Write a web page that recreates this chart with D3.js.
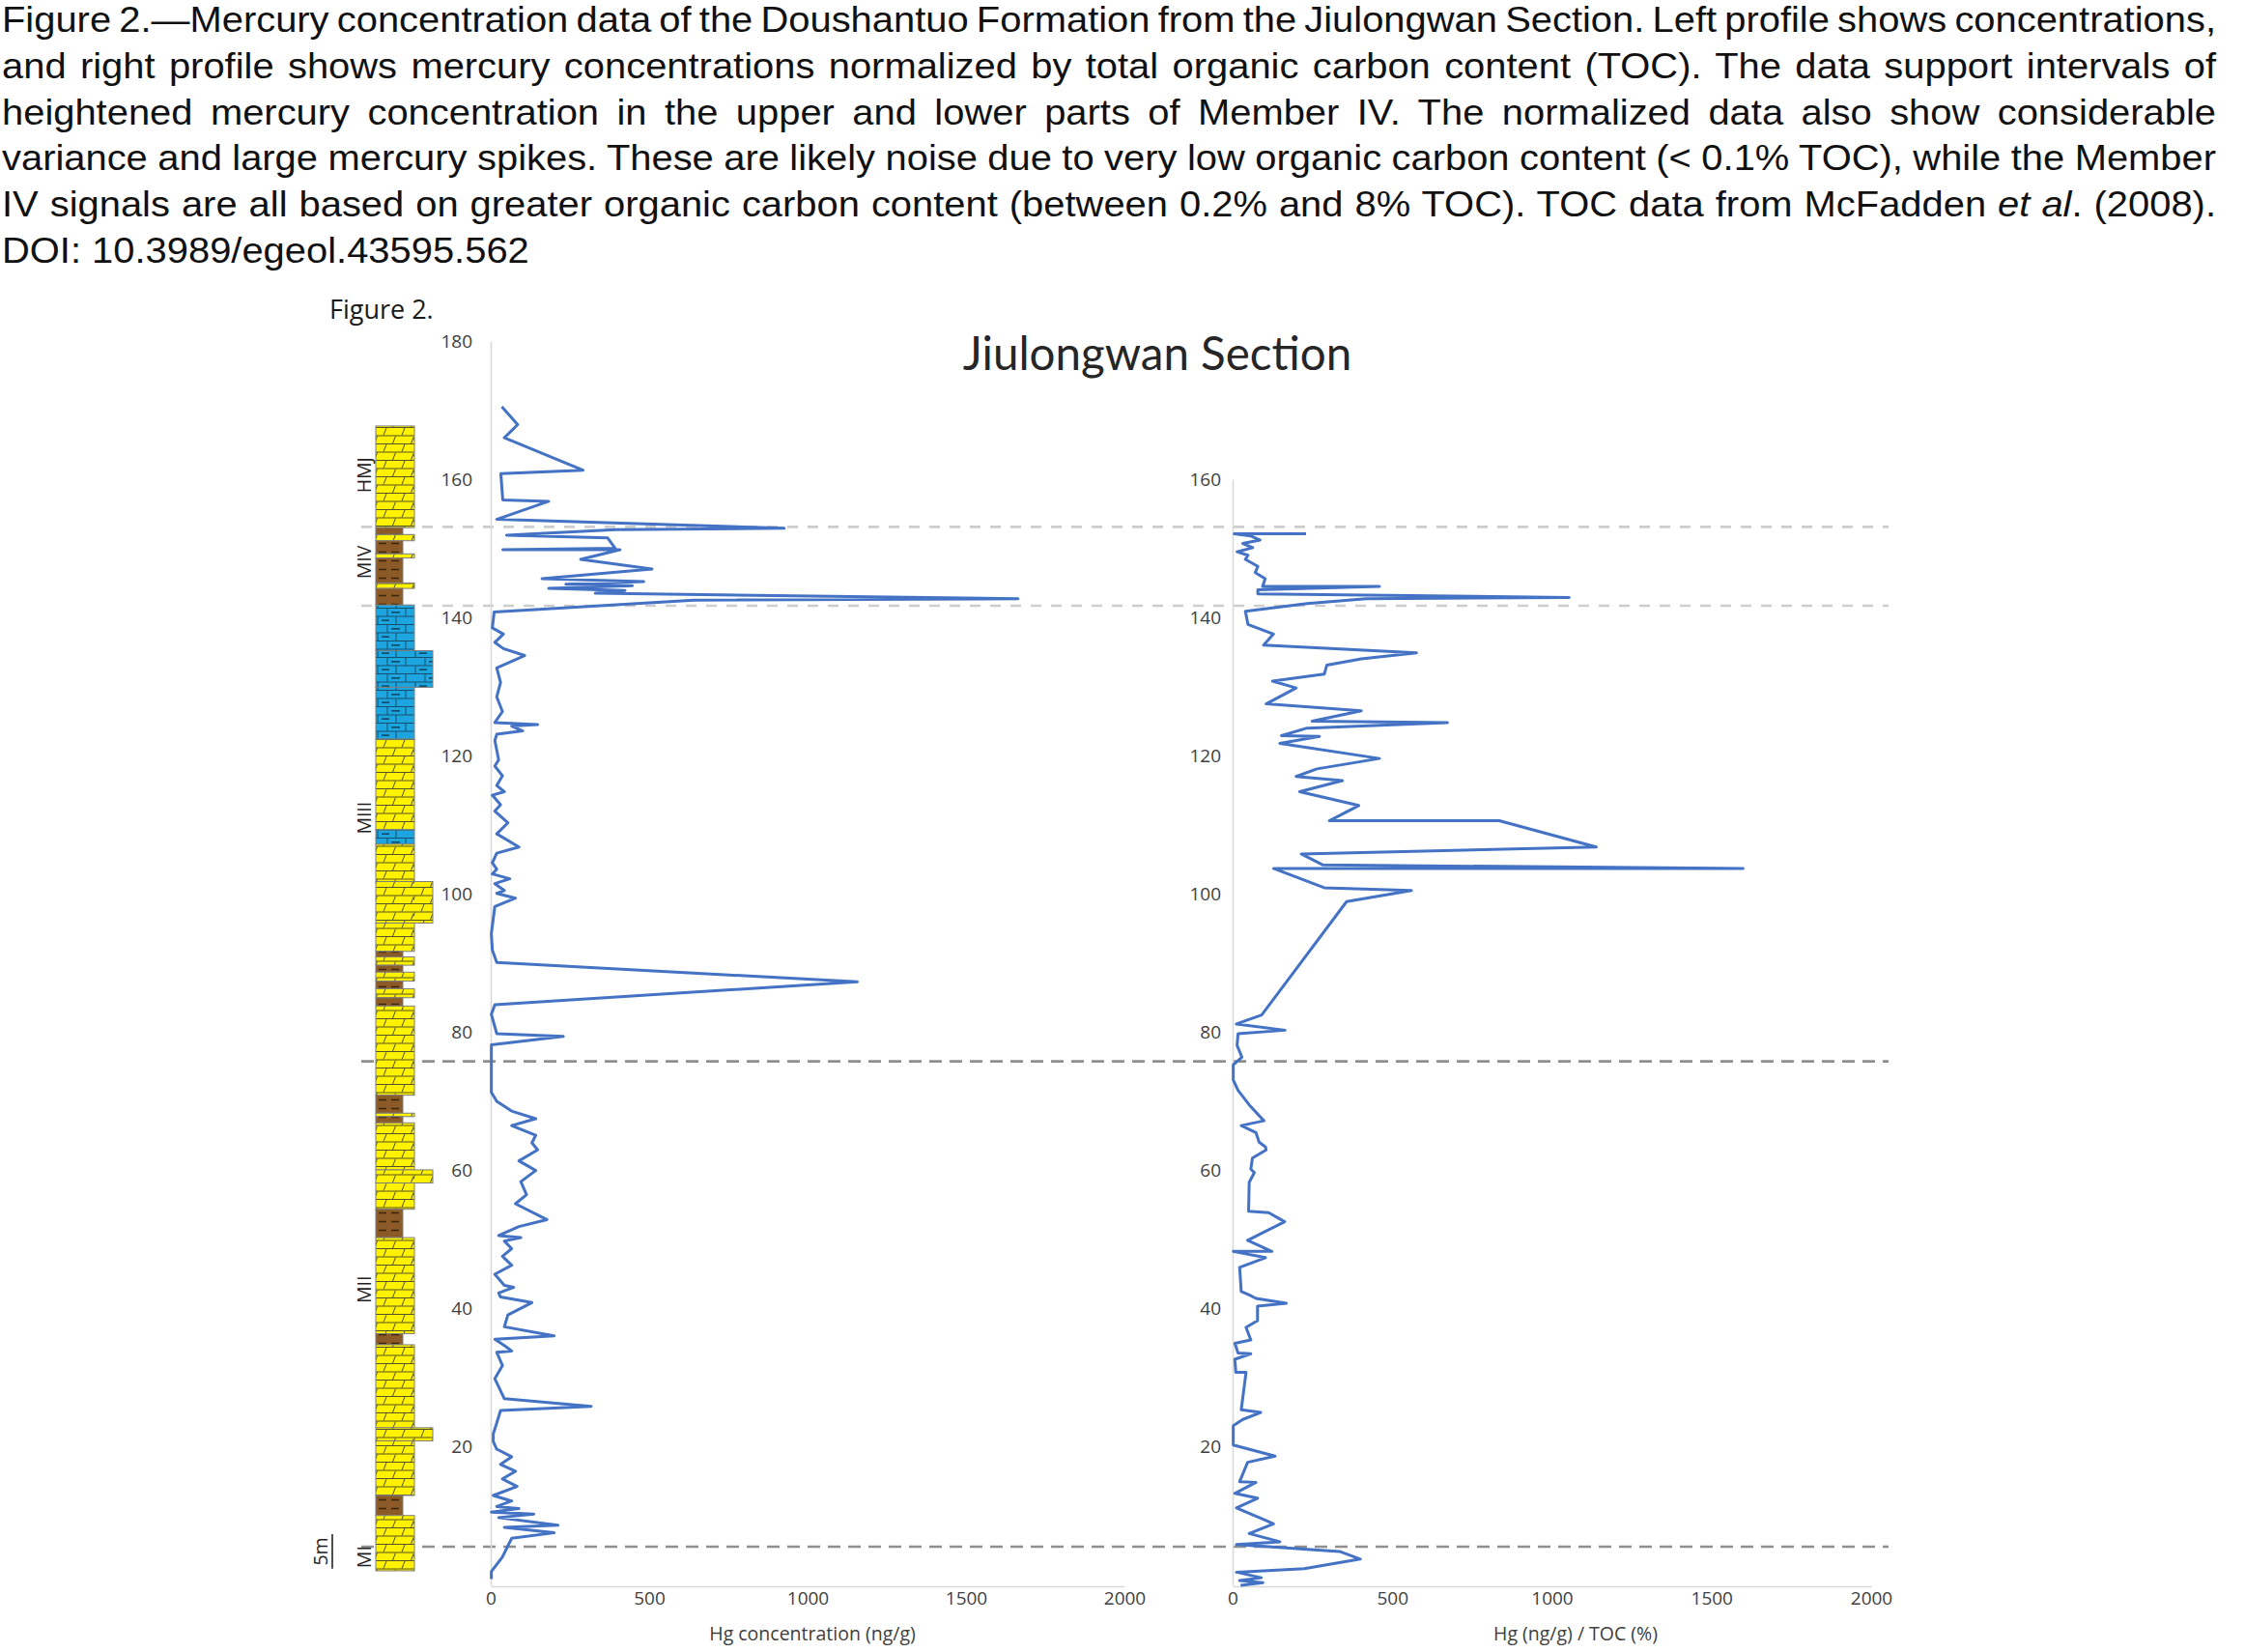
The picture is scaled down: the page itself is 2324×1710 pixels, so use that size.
<!DOCTYPE html>
<html><head><meta charset="utf-8">
<script src="https://cdn.jsdelivr.net/npm/d3@7"></script>
<style>body{margin:0;background:#fff}svg{display:block}</style>
</head><body>
<svg id="chart" width="2324" height="1710"></svg>
<script>
// ---------------- DATA ----------------
const captionLines = [
  [["Figure 2.—Mercury concentration data of the Doushantuo Formation from the Jiulongwan Section. Left profile shows concentrations,", false]],
  [["and right profile shows mercury concentrations normalized by total organic carbon content (TOC). The data support intervals of", false]],
  [["heightened mercury concentration in the upper and lower parts of Member IV. The normalized data also show considerable", false]],
  [["variance and large mercury spikes. These are likely noise due to very low organic carbon content (< 0.1% TOC), while the Member", false]],
  [["IV signals are all based on greater organic carbon content (between 0.2% and 8% TOC). TOC data from McFadden ", false], ["et al", true], [". (2008).", false]],
  [["DOI: 10.3989/egeol.43595.562", false]]
];
const figureLabel = "Figure 2.";
const chartTitle = "Jiulongwan Section";
const leftAxisTitle = "Hg concentration (ng/g)";
const rightAxisTitle = "Hg (ng/g) / TOC (%)";
const xTicks = [0, 500, 1000, 1500, 2000];
const leftDepthTicks = [20, 40, 60, 80, 100, 120, 140, 160, 180];
const rightDepthTicks = [20, 40, 60, 80, 100, 120, 140, 160];

// Hg concentration profile (depth m, ng/g)
const hgDepth = [170.5,167.9,166.0,161.3,160.8,157.0,156.8,154.2,152.9,152.7,151.9,151.5,150.0,149.8,149.8,148.4,147.0,145.6,145.2,144.8,144.6,144.2,143.9,143.5,142.7,142.5,140.8,
 138.5,137.6,136.4,135.5,134.5,132.7,130.6,128.5,126.4,124.8,124.5,124.3,123.6,123.1,122.2,119.4,118.5,117.1,115.7,114.8,114.3,112.9,112.0,110.3,108.7,106.8,105.9,104.5,103.6,102.9,102.2,101.5,100.5,100.1,99.4,98.2,94.3,91.9,90.1,87.3,84.0,82.6,79.8,79.4,78.2,75.6,
 71.3,70.0,68.6,67.5,66.5,65.1,64.0,63.0,61.4,60.0,58.4,56.5,55.2,52.9,51.9,50.6,50.3,49.8,48.7,47.6,46.3,45.0,43.4,43.1,42.3,41.7,40.9,39.1,37.4,36.1,35.6,34.7,33.9,33.7,31.8,29.9,27.0,25.9,25.3,23.5,21.9,20.8,19.7,18.6,17.5,16.5,15.4,14.3,13.0,12.2,11.4,11.1,10.6,10.3,9.8,8.7,8.4,7.6,6.8,5.7,4.1,2.0,0.9];
const hgConc = [35,85,43,291,32,38,183,19,926,393,50,369,393,38,408,284,509,162,483,237,447,183,424,330,1664,641,11,
 5,40,13,40,107,19,31,19,37,13,148,66,101,19,13,25,13,37,19,43,5,31,13,54,19,89,19,5,19,5,60,13,43,19,78,13,2,5,19,1157,13,2,19,229,2,2,
 2,19,66,142,66,142,130,148,89,142,95,113,78,177,89,25,95,43,66,37,66,13,43,72,25,31,130,54,43,200,13,43,66,19,37,13,43,317,31,19,8,8,19,66,31,78,37,83,8,66,19,89,2,136,25,212,43,200,66,54,37,2,2];

// Hg / TOC profile (depth m, (ng/g)/%)
const tocDepth = [152.1,152.1,151.8,151.2,150.7,150.1,149.5,149.0,148.4,147.4,146.5,145.6,144.5,144.5,144.0,143.4,142.9,142.7,142.0,140.9,139.0,137.6,136.0,134.9,134.0,133.1,131.8,130.8,129.8,127.5,126.5,125.0,124.8,124.0,122.9,122.8,121.8,119.6,118.1,117.0,116.4,114.8,112.8,110.6,110.6,106.8,105.8,104.2,103.7,103.7,100.9,100.5,98.9,
 82.5,81.2,80.3,79.8,78.1,76.4,75.3,73.1,71.6,69.5,67.2,66.5,65.5,64.1,63.4,63.0,61.8,60.2,59.7,58.3,54.1,53.9,52.6,49.9,48.3,48.3,47.4,46.0,42.5,42.0,41.5,40.8,40.4,38.3,37.3,35.5,35.0,33.6,33.5,32.7,30.8,30.8,25.4,25.0,24.0,23.1,20.3,18.7,17.8,15.0,14.9,13.3,12.6,11.2,9.4,8.9,7.5,6.3,5.9,4.9,3.8,2.4,1.9,1.1,0.7,0.4,0.0];
const tocNorm = [230,5,56,86,32,63,14,48,40,79,71,102,94,460,79,79,1054,418,233,40,48,128,97,576,403,295,287,125,199,105,403,249,673,233,153,272,148,460,264,199,344,210,395,303,835,1139,215,283,1599,128,287,560,357,
 91,12,164,17,14,29,2,2,17,52,98,27,73,83,103,105,62,57,68,52,50,113,163,47,123,2,103,22,27,52,73,168,78,78,42,57,7,17,57,7,10,42,27,88,32,2,2,133,47,22,73,7,78,12,103,128,52,148,12,335,400,224,12,90,22,95,25];

// Member boundaries (dashed) in m
const boundaryDepths = [153.1, 141.7, 75.8, 5.6];
const boundaryTone = ["light", "light", "dark", "dark"];

// Lithology column: top, base (m), rock type, weathering profile level
const lithTop  = [167.7,153.0,152.0,151.1,149.2,148.6,145.0,144.2,141.8,135.2,129.9,122.4,109.3,107.2,101.8,95.8,91.7,90.9,89.7,88.7,87.4,86.3,85.0,83.8,70.9,68.3,67.8,66.9,60.1,58.2,54.4,50.3,36.4,34.8,22.8,20.9,13.0,10.1];
const lithBase = [153.0,152.0,151.1,149.2,148.6,145.0,144.2,141.8,135.2,129.9,122.4,109.3,107.2,101.8,95.8,91.7,90.9,89.7,88.7,87.4,86.3,85.0,83.8,70.9,68.3,67.8,66.9,60.1,58.2,54.4,50.3,36.4,34.8,22.8,20.9,13.0,10.1,2.1];
const lithRock = ["dolomite","shale","dolomite","shale","dolomite","shale","dolomite","shale","limestone","limestone","limestone","dolomite","limestone","dolomite","dolomite","dolomite","shale","dolomite","shale","dolomite","shale","dolomite","shale","dolomite","shale","dolomite","shale","dolomite","dolomite","dolomite","shale","dolomite","shale","dolomite","dolomite","dolomite","shale","dolomite"];
const lithLevel = [2,1,2,1,2,1,2,1,2,3,2,2,2,2,3,2,1,2,1,2,1,2,1,2,1,2,1,2,3,2,1,2,1,2,3,2,1,2];

const memberNames = ["HMJ","MIV","MIII","MII","MI"];
const memberLabelDepth = [160.6,148.0,111.0,42.8,4.1];
const scaleBarLabel = "5m";
const scaleBarFrom = 2.4, scaleBarTo = 7.4;

// ---------------- DRAW ----------------
const svg = d3.select("#chart");
svg.append("rect").attr("width",2324).attr("height",1710).attr("fill","#fff");

// caption (justified, slightly wide face)
const capStretch = 1.079;
const cap = svg.append("g").attr("transform",`scale(${capStretch},1)`)
  .attr("font-family","'Liberation Sans', Arial, sans-serif").attr("font-size",37).attr("fill","#111");
const capLeft = 2 / capStretch, capRight = 2294 / capStretch;
captionLines.forEach((parts, i) => {
  const t = cap.append("text").attr("x", capLeft).attr("y", 33 + i*47.8).attr("xml:space","preserve");
  parts.forEach(([s, it]) => { const ts = t.append("tspan").text(s); if (it) ts.attr("font-style","italic"); });
  if (i < captionLines.length - 1) {
    const full = parts.map(p=>p[0]).join("");
    const nSp = (full.match(/ /g) || []).length;
    const len = t.node().getComputedTextLength();
    t.style("word-spacing", ((capRight - capLeft - len) / nSp) + "px");
  }
});

const chartFont = "'Open Sans', 'Noto Sans', sans-serif";
svg.append("text").attr("x",341).attr("y",330).attr("font-family",chartFont).attr("font-size",27).attr("fill","#1a1a1a").text(figureLabel);
svg.append("text").attr("x",1198).attr("y",383).attr("text-anchor","middle").attr("font-family","Lato, 'Open Sans', sans-serif").attr("font-size",47.5).attr("fill","#262626").text(chartTitle);

// scales
const pxPerM = 7.156;
const yL = d3.scaleLinear().domain([0,180]).range([1641, 1641 - 180*pxPerM]);
const yR = d3.scaleLinear().domain([0,160]).range([1641, 1641 - 160*pxPerM]);
const xL = d3.scaleLinear().domain([0,2000]).range([508, 1164]);
const xR = d3.scaleLinear().domain([0,2000]).range([1276, 1937]);

// dashed boundaries
svg.append("g").selectAll("line").data(boundaryDepths).join("line")
  .attr("x1",374).attr("x2",1955)
  .attr("y1",d=>yL(d)).attr("y2",d=>yL(d))
  .attr("stroke",(d,i)=>boundaryTone[i]==="light" ? "#cdcdcd" : "#8f8f8f")
  .attr("stroke-width",2.6)
  .attr("stroke-dasharray",(d,i)=>boundaryTone[i]==="light" ? "11,10" : "13,8");

// patterns
const defs = svg.append("defs");
const pd = defs.append("pattern").attr("id","dolomite").attr("patternUnits","userSpaceOnUse").attr("width",39).attr("height",17).attr("x",389).attr("y",0);
pd.append("rect").attr("width",39).attr("height",17).attr("fill","#FFF200");
pd.append("path").attr("d","M0,0.5H39M0,9H39").attr("stroke","#55532a").attr("stroke-width",1.1).attr("fill","none");
pd.append("path").attr("d","M8,8.5L11,1M27,8.5L30,1M17.5,17L20.5,9.5M36.5,17L39.5,9.5M-1.5,17L1.5,9.5").attr("stroke","#3a3a2a").attr("stroke-width",0.9).attr("fill","none");
const pl = defs.append("pattern").attr("id","limestone").attr("patternUnits","userSpaceOnUse").attr("width",39).attr("height",17).attr("x",389).attr("y",0);
pl.append("rect").attr("width",39).attr("height",17).attr("fill","#1CA5DF");
pl.append("path").attr("d","M0,0.5H39M0,9H39M12,0.5V9M31,0.5V9M21,9V17M2,9V17").attr("stroke","#17506f").attr("stroke-width",1).attr("fill","none");
pl.append("path").attr("d","M16,4.8H25M6,13.2H14").attr("stroke","#0d2f45").attr("stroke-width",1.2).attr("fill","none");
const ps = defs.append("pattern").attr("id","shale").attr("patternUnits","userSpaceOnUse").attr("width",28).attr("height",9).attr("x",389).attr("y",0);
ps.append("rect").attr("width",28).attr("height",9).attr("fill","#8C5A26");
ps.append("path").attr("d","M3,4.5H11M16,4.5H24").attr("stroke","#3a250d").attr("stroke-width",1.4).attr("fill","none");

const colLeft = 389;
const widthOf = d3.scaleOrdinal().domain([1,2,3]).range([28,40,59]);
const lith = lithTop.map((t,i)=>({top:t, base:lithBase[i], rock:lithRock[i], level:lithLevel[i]}));
svg.append("g").selectAll("rect").data(lith).join("rect")
  .attr("x",colLeft).attr("y",d=>yL(d.top)).attr("width",d=>widthOf(d.level)).attr("height",d=>yL(d.base)-yL(d.top))
  .attr("fill",d=>`url(#${d.rock})`).attr("stroke","#7d7d7d").attr("stroke-width",1);

// member labels
svg.append("g").selectAll("text").data(memberNames).join("text")
  .attr("transform",(d,i)=>`translate(384,${yL(memberLabelDepth[i])}) rotate(-90)`)
  .attr("text-anchor","middle").attr("font-family",chartFont).attr("font-size",19.5).attr("fill","#1f1f1f").text(d=>d);
svg.append("text").attr("transform",`translate(339,${yL((scaleBarFrom+scaleBarTo)/2)}) rotate(-90)`)
  .attr("text-anchor","middle").attr("font-family",chartFont).attr("font-size",19.5).attr("fill","#1f1f1f").text(scaleBarLabel);
svg.append("line").attr("x1",344).attr("x2",344).attr("y1",yL(scaleBarTo)).attr("y2",yL(scaleBarFrom)).attr("stroke","#222").attr("stroke-width",1.6);

// axes
function styleAxis(g){
  g.select(".domain").attr("stroke","#d9d9d9").attr("stroke-width",1.6);
  g.selectAll(".tick line").remove();
  g.selectAll(".tick text").attr("fill","#404040").attr("font-family",chartFont).attr("font-size",19);
}
svg.append("g").attr("transform","translate(0,1642)").call(d3.axisBottom(xL).tickValues(xTicks).tickSize(0).tickPadding(5).tickFormat(d3.format("d"))).call(styleAxis);
svg.append("g").attr("transform","translate(0,1642)").call(d3.axisBottom(xR).tickValues(xTicks).tickSize(0).tickPadding(5).tickFormat(d3.format("d"))).call(styleAxis);
svg.append("g").attr("transform",`translate(${xL(0)},0)`).call(d3.axisLeft(yL).tickValues(leftDepthTicks).tickSize(0).tickPadding(19).tickSizeOuter(0)).call(styleAxis);
svg.append("g").attr("transform",`translate(${xR(0)},0)`).call(d3.axisLeft(yR).tickValues(rightDepthTicks).tickSize(0).tickPadding(12).tickSizeOuter(0)).call(styleAxis);

svg.append("text").attr("x",841).attr("y",1698).attr("text-anchor","middle").attr("font-family",chartFont).attr("font-size",19.5).attr("fill","#404040").text(leftAxisTitle);
svg.append("text").attr("x",1631).attr("y",1698).attr("text-anchor","middle").attr("font-family",chartFont).attr("font-size",19.5).attr("fill","#404040").text(rightAxisTitle);

// profiles
const hg = hgDepth.map((d,i)=>({d, v:hgConc[i]}));
const toc = tocDepth.map((d,i)=>({d, v:tocNorm[i]}));
svg.append("path").datum(hg).attr("fill","none").attr("stroke","#4472C4").attr("stroke-width",3).attr("stroke-linejoin","round")
  .attr("d", d3.line().x(p=>xL(p.v)).y(p=>yL(p.d)));
svg.append("path").datum(toc).attr("fill","none").attr("stroke","#4472C4").attr("stroke-width",3).attr("stroke-linejoin","round")
  .attr("d", d3.line().x(p=>xR(p.v)).y(p=>yR(p.d)));
</script>
</body></html>
